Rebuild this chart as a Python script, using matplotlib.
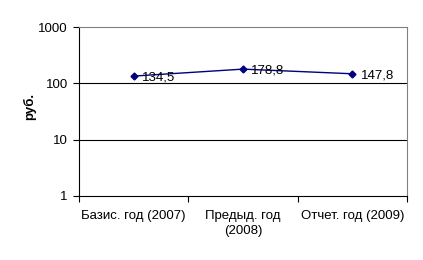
import matplotlib
matplotlib.use("Agg")
import matplotlib.pyplot as plt
from matplotlib.ticker import FixedLocator, NullLocator

plt.rcParams['font.family'] = ['Liberation Sans', 'DejaVu Sans']

categories = ["Базис. год (2007)", "Предыд. год\n(2008)", "Отчет. год (2009)"]
values = [134.5, 178.8, 147.8]
labels = ["134,5", "178,8", "147,8"]
yticks = [1, 10, 100, 1000]

fs = 9.5
fig = plt.figure(figsize=(4.23, 2.6), dpi=100)
ax = fig.add_axes([79/423, 1-196/260, (407-79)/423, (196-27)/260])
x = [i + 0.5 for i in range(len(values))]
ax.plot(x, values, color="#000080", marker="D", markersize=3.5, linewidth=1)
for xi, v, l in zip(x, values, labels):
    ax.annotate(l, (xi, v), xytext=(6, -1), textcoords="offset points",
                va="center", ha="left", fontsize=fs)
ax.set_yscale("log")
ax.set_ylim(1, 1000)
ax.set_xlim(0, 3)
ax.yaxis.set_major_locator(FixedLocator(yticks))
ax.yaxis.set_minor_locator(NullLocator())
ax.set_yticklabels([str(t) for t in yticks], fontsize=fs)
ax.set_xticks([0, 1, 2, 3])
ax.set_xticklabels([])
ax.set_xticks(x, minor=True)
ax.set_xticklabels(categories, minor=True, fontsize=fs, linespacing=1.3)
ax.tick_params(axis="x", which="minor", length=0, pad=10)
ax.tick_params(axis="x", which="major", length=4, direction="out")
ax.tick_params(axis="y", length=4, direction="out", pad=4)
for t in [10, 100]:
    ax.axhline(t, color="black", linewidth=0.8)
ax.spines["top"].set_color("#808080")
ax.spines["right"].set_color("#808080")
for s in ax.spines.values():
    s.set_linewidth(0.8)
ax.set_ylabel("руб.", fontsize=fs, fontweight="bold")
ax.yaxis.set_label_coords(-0.131, 0.53)
fig.savefig("out.png", dpi=100)
